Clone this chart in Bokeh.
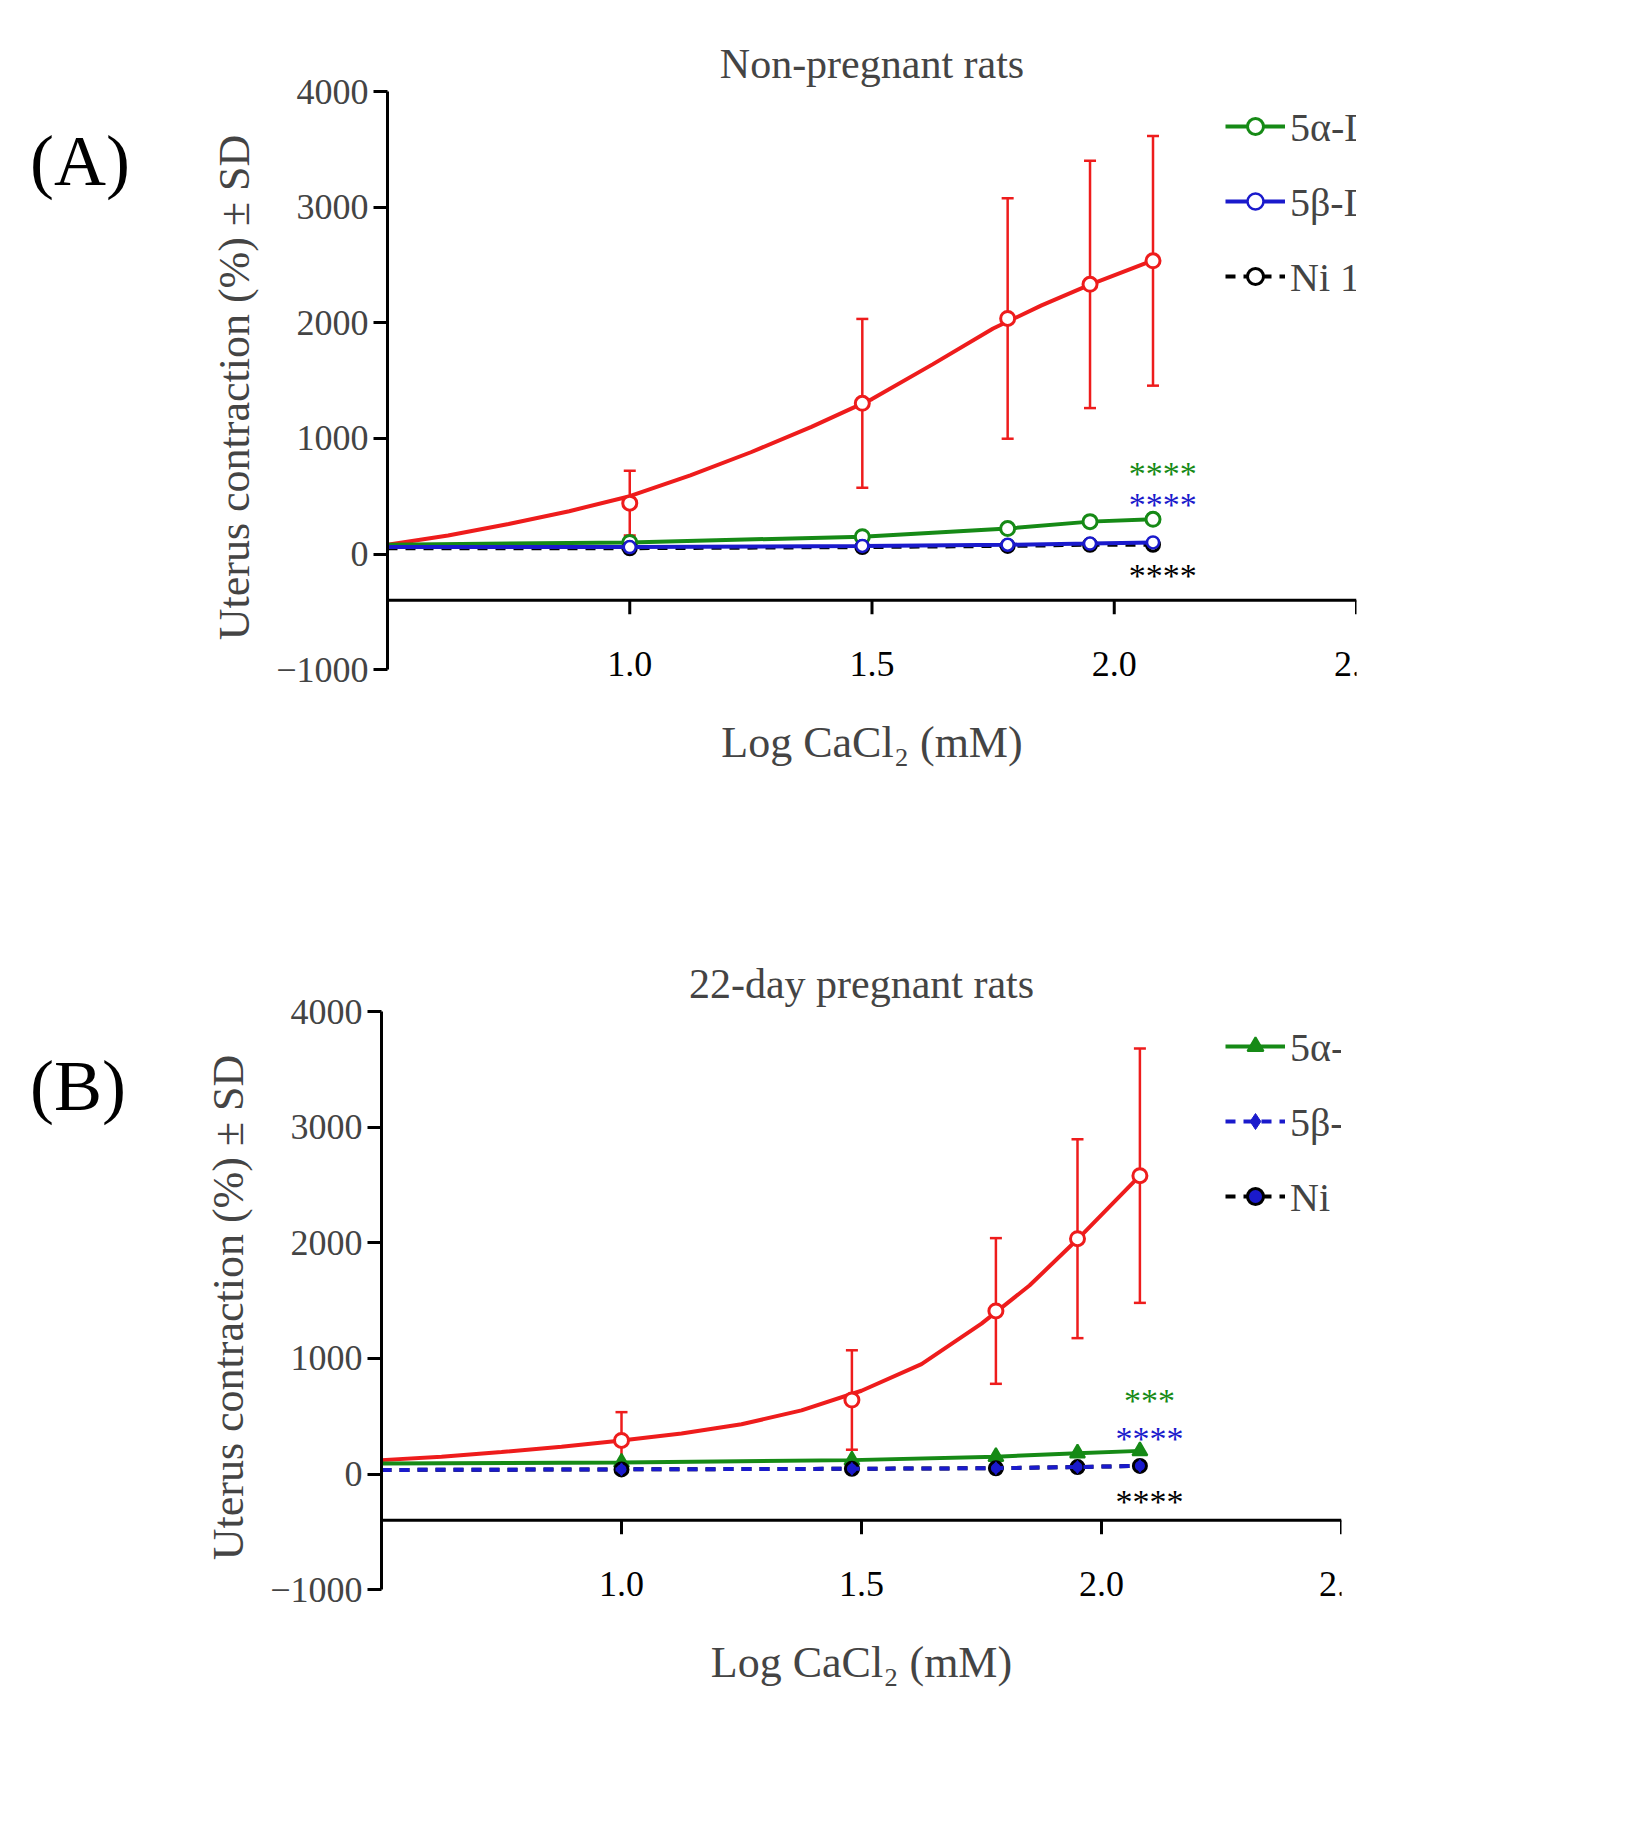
from bokeh.plotting import figure
from bokeh.models import ColumnDataSource, Whisker, TeeHead, Legend, LegendItem, Range1d, Div
from bokeh.layouts import column, row
from bokeh.core.properties import value
from bokeh.embed import file_html
from bokeh.resources import INLINE

FONT = "Liberation Serif"
FONT_V = value(FONT)
conc = [1.0, 1.48, 1.78, 1.95, 2.08]
xticks = [1.0, 1.5, 2.0, 2.5]
xtick_labels = ["1.0", "1.5", "2.0", "2.5"]

# Panel A (non-pregnant)
a_ctrl = [440, 1303, 2037, 2332, 2536]
a_ctrl_sd = [280, 730, 1040, 1070, 1080]
a_fit_x = [0.5, 0.625, 0.75, 0.875, 1.0, 1.125, 1.25, 1.375, 1.5, 1.625, 1.75, 1.85, 1.95, 2.08]
a_fit_y = [80, 160, 260, 370, 500, 680, 880, 1100, 1340, 1640, 1950, 2150, 2330, 2540]
a_alpha = [100, 150, 220, 280, 300]
a_alpha_line = [80, 100, 150, 220, 280, 300]
a_beta = [60, 70, 80, 90, 100]
a_beta_line = [60, 60, 70, 80, 90, 100]
a_ni = [50, 60, 70, 80, 80]
a_ni_line = [50, 50, 60, 70, 80, 80]
a_stars = ["****", "****", "****"]
a_star_y = [700, 430, -190]

# Panel B (22-day pregnant)
b_ctrl = [290, 640, 1410, 2035, 2580]
b_ctrl_sd = [245, 430, 630, 860, 1100]
b_fit_x = [0.5, 0.625, 0.75, 0.875, 1.0, 1.125, 1.25, 1.375, 1.5, 1.625, 1.75, 1.85, 1.95, 2.08]
b_fit_y = [120, 150, 190, 235, 290, 350, 430, 550, 720, 950, 1300, 1630, 2030, 2580]
b_alpha = [100, 120, 150, 180, 200]
b_alpha_line = [90, 100, 120, 150, 180, 200]
b_beta = [40, 45, 50, 60, 70]
b_beta_line = [35, 40, 45, 50, 60, 70]
b_ni = [40, 45, 50, 60, 70]
b_ni_line = [35, 40, 45, 50, 60, 70]
b_stars = ["***", "****", "****"]
b_star_y = [640, 310, -240]

RED, GREEN, BLUE, BLACK = "#ee1c1c", "#168a16", "#1a1acc", "#000000"
DIVW = 140


def panel(title, tag, ctrl, sd, fx, fy, al, al_line, be, be_line, ni, ni_line,
          stars, star_y, pregnant, left, right_edge, tag_top):
    W = 1600 - DIVW
    p = figure(width=W, height=910, output_backend="svg", toolbar_location=None,
               x_range=Range1d(0.5, 2.5), y_range=Range1d(-1120, 4000),
               min_border_left=left - DIVW, min_border_right=1600 - right_edge,
               min_border_top=91, min_border_bottom=227)
    p.outline_line_color = None
    p.grid.visible = False
    p.title.text = title
    p.title.text_font = FONT
    p.title.text_font_size = "42px"
    p.title.text_font_style = "normal"
    p.title.align = "center"
    p.title.offset = 0

    ya = p.yaxis[0]
    ya.ticker = [-1000, 0, 1000, 2000, 3000, 4000]
    ya.bounds = (-1000, 4000)
    ya.major_label_text_font = FONT
    ya.major_label_text_font_size = "36px"
    ya.axis_line_width = 3
    ya.major_tick_line_width = 3
    ya.major_tick_out = 14
    ya.major_tick_in = 0
    ya.minor_tick_line_color = None
    ya.axis_label = "Uterus contraction (%) ± SD"
    ya.axis_label_text_font = FONT
    ya.axis_label_text_font_size = "44px"
    ya.axis_label_text_font_style = "normal"
    ya.axis_label_standoff = 14

    xa = p.xaxis[0]
    xa.axis_line_color = None
    xa.major_tick_line_color = None
    xa.minor_tick_line_color = None
    xa.major_label_text_font_size = "0px"
    xa.axis_label = "Log CaCl₂ (mM)"
    xa.axis_label_text_font = FONT
    xa.axis_label_text_font_size = "44px"
    xa.axis_label_text_font_style = "normal"
    xa.axis_label_standoff = 28

    # detached x axis at y = -400
    p.line([0.5, 2.5], [-400, -400], line_color="black", line_width=3)
    p.segment(x0=xticks, y0=[-400] * 4, x1=xticks, y1=[-520] * 4, line_color="black", line_width=3)
    p.text(x=xticks, y=[-950] * 4, text=xtick_labels, text_font=FONT_V, text_font_size="36px",
           text_align="center", text_baseline="middle")

    src = ColumnDataSource(dict(x=conc, y=ctrl, lo=[c - s for c, s in zip(ctrl, sd)],
                                hi=[c + s for c, s in zip(ctrl, sd)]))
    w = Whisker(source=src, base="x", upper="hi", lower="lo", line_color=RED, line_width=2.5,
                upper_head=TeeHead(size=12, line_color=RED, line_width=2.5),
                lower_head=TeeHead(size=12, line_color=RED, line_width=2.5))
    p.add_layout(w)
    r_cl = p.line(fx, fy, line_color=RED, line_width=4)
    r_cs = p.scatter("x", "y", source=src, marker="circle", size=14, line_color=RED, line_width=3,
                     fill_color="white")

    xs_line = [0.5] + conc
    r_al = p.line(xs_line, al_line, line_color=GREEN, line_width=4)
    if pregnant:
        r_as = p.scatter(conc, al, marker="triangle", size=15, line_color=GREEN, fill_color=GREEN,
                         line_width=2)
    else:
        r_as = p.scatter(conc, al, marker="circle", size=14, line_color=GREEN, fill_color="white",
                         line_width=3)
    r_nl = p.line(xs_line, ni_line, line_color=BLACK, line_width=4, line_dash="10 8")
    r_ns = p.scatter(conc, ni, marker="circle", size=13, line_color=BLACK,
                     fill_color=(BLUE if pregnant else "white"), line_width=3)
    if pregnant:
        r_bl = p.line(xs_line, be_line, line_color=BLUE, line_width=4, line_dash="10 8")
        r_bs = p.scatter(conc, be, marker="diamond", size=13, line_color=BLUE, fill_color=BLUE)
    else:
        r_bl = p.line(xs_line, be_line, line_color=BLUE, line_width=4)
        r_bs = p.scatter(conc, be, marker="circle", size=12, line_color=BLUE, fill_color="white",
                         line_width=2.5)

    p.text(x=[2.1] * 3, y=star_y, text=stars, text_color=[GREEN, BLUE, BLACK], text_font=FONT_V,
           text_font_size="34px", text_align="center", text_baseline="middle")

    leg = Legend(items=[
        LegendItem(label="Control", renderers=[r_cl, r_cs]),
        LegendItem(label="5α-DHT 10⁻⁴M", renderers=[r_al, r_as]),
        LegendItem(label="5β-DHT 10⁻⁴M", renderers=[r_bl, r_bs]),
        LegendItem(label="Ni 10⁻⁷M", renderers=[r_nl, r_ns]),
    ], location=(1225 - left - 10, 380), label_text_font=FONT, label_text_font_size="40px",
        glyph_width=60, glyph_height=40, label_height=52, spacing=20, padding=10,
        border_line_color=None, background_fill_alpha=0)
    p.add_layout(leg)

    d = Div(text=tag, width=DIVW, height=910,
            styles={"font-family": FONT, "font-size": "72px", "padding-top": f"{tag_top}px",
                    "padding-left": "25px", "color": "black"})
    return row(d, p, spacing=0)


pa = panel("Non-pregnant rats", "(A)", a_ctrl, a_ctrl_sd, a_fit_x, a_fit_y, a_alpha, a_alpha_line,
           a_beta, a_beta_line, a_ni, a_ni_line, a_stars, a_star_y, False, 377, 1346, 105)
pb = panel("22-day pregnant rats", "(B)", b_ctrl, b_ctrl_sd, b_fit_x, b_fit_y, b_alpha, b_alpha_line,
           b_beta, b_beta_line, b_ni, b_ni_line, b_stars, b_star_y, True, 371, 1331, 110)

lay = column(pa, pb, spacing=0)
open("out.html", "w").write(file_html(lay, INLINE))
